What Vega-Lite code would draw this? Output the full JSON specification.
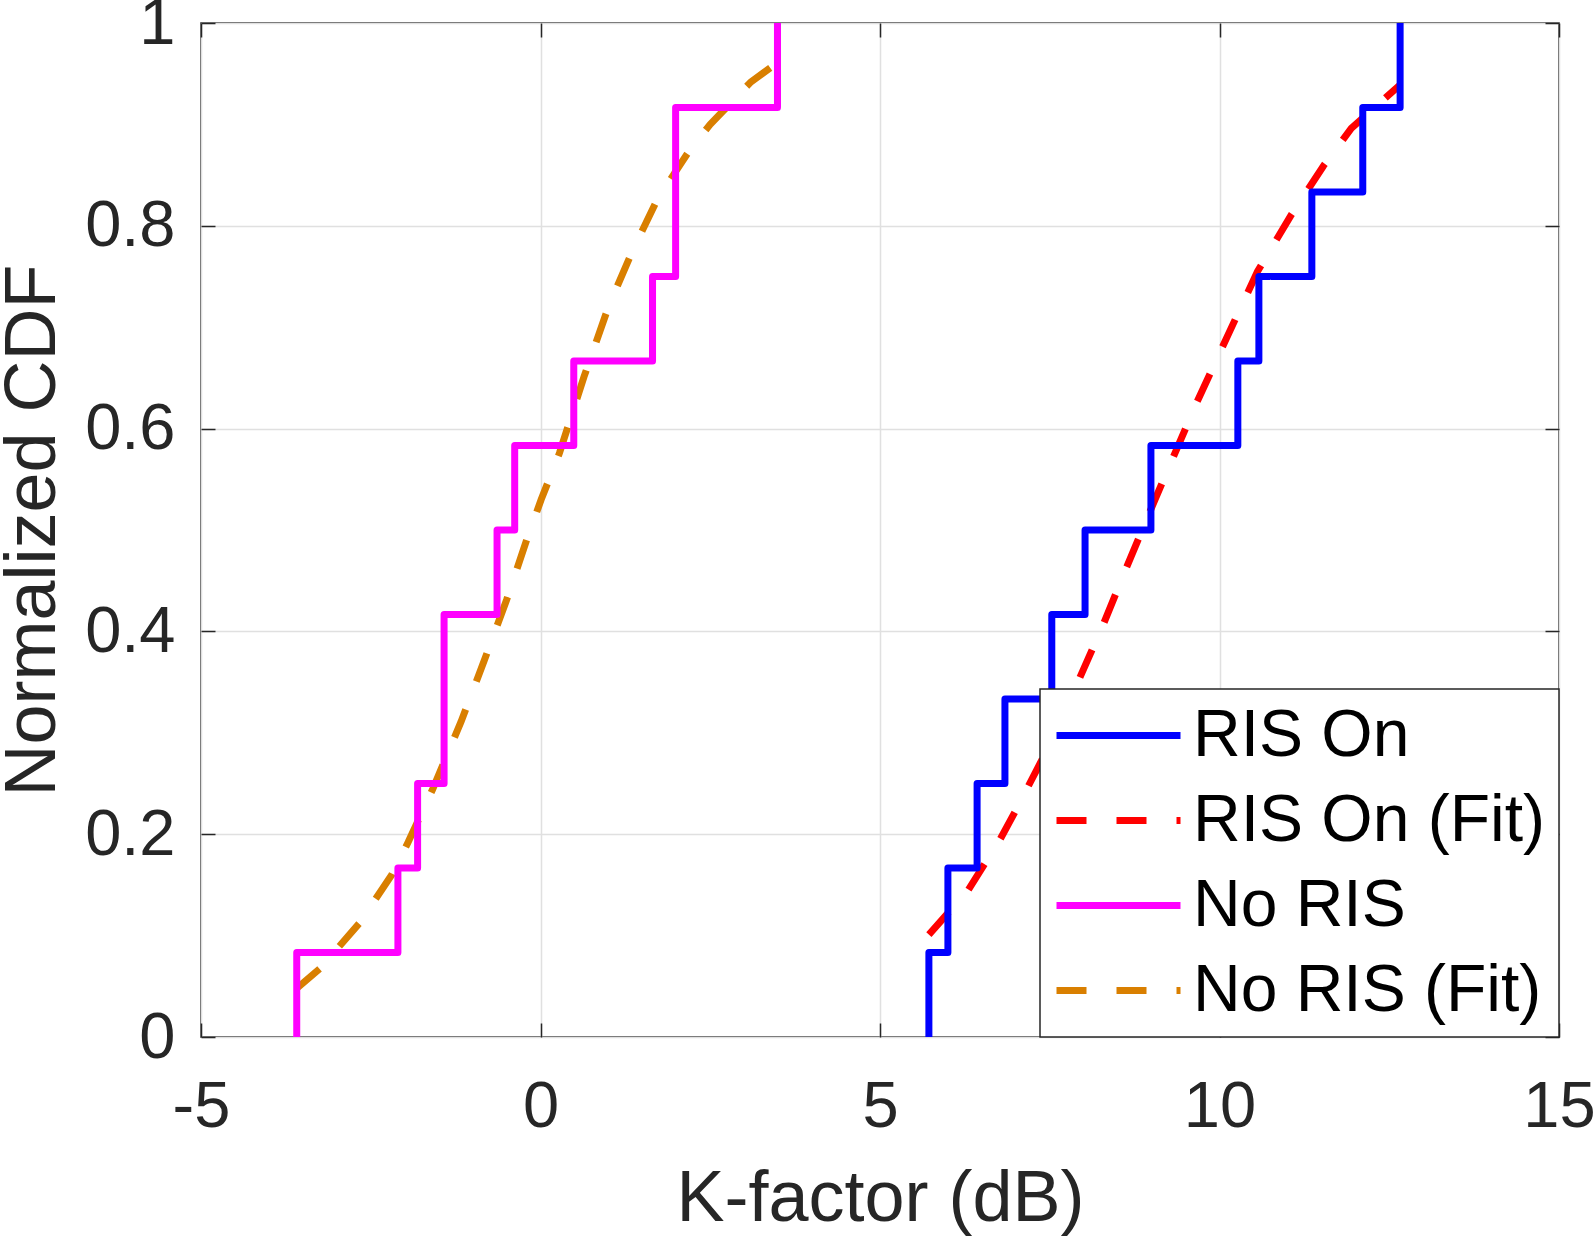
{
  "$schema": "https://vega.github.io/schema/vega-lite/v6.json",
  "width": 1358,
  "height": 1014,
  "autosize": {"type": "none"},
  "padding": {"left": 201, "top": 23, "right": 35, "bottom": 200},
  "background": "white",
  "config": {
    "font": "Liberation Sans",
    "view": {"stroke": "#262626", "strokeWidth": 1.5},
    "legend": {
      "orient": "bottom-right",
      "offset": 0,
      "symbolType": "stroke",
      "symbolSize": 15376,
      "symbolStrokeWidth": 7,
      "labelFont": "Liberation Sans",
      "labelFontSize": 66,
      "labelColor": "#000000",
      "labelOffset": 9,
      "labelLimit": 600,
      "padding": 13,
      "rowPadding": 18,
      "clipHeight": 67,
      "strokeColor": "#262626",
      "strokeWidth": 1.5,
      "fillColor": "white"
    }
  },
  "datasets": {
    "steps": [
      {"series": "RIS On", "rank": 0, "x": 5.72, "cdf": 0},
      {"series": "RIS On", "rank": 1, "x": 5.72, "cdf": 0.0833},
      {"series": "RIS On", "rank": 2, "x": 6.0, "cdf": 0.1667},
      {"series": "RIS On", "rank": 3, "x": 6.43, "cdf": 0.25},
      {"series": "RIS On", "rank": 4, "x": 6.84, "cdf": 0.3333},
      {"series": "RIS On", "rank": 5, "x": 7.53, "cdf": 0.4167},
      {"series": "RIS On", "rank": 6, "x": 8.02, "cdf": 0.5},
      {"series": "RIS On", "rank": 7, "x": 8.99, "cdf": 0.5833},
      {"series": "RIS On", "rank": 8, "x": 10.27, "cdf": 0.6667},
      {"series": "RIS On", "rank": 9, "x": 10.58, "cdf": 0.75},
      {"series": "RIS On", "rank": 10, "x": 11.36, "cdf": 0.8333},
      {"series": "RIS On", "rank": 11, "x": 12.11, "cdf": 0.9167},
      {"series": "RIS On", "rank": 12, "x": 12.66, "cdf": 1},
      {"series": "No RIS", "rank": 0, "x": -3.59, "cdf": 0},
      {"series": "No RIS", "rank": 1, "x": -3.59, "cdf": 0.0833},
      {"series": "No RIS", "rank": 2, "x": -2.1, "cdf": 0.1667},
      {"series": "No RIS", "rank": 3, "x": -1.81, "cdf": 0.25},
      {"series": "No RIS", "rank": 4, "x": -1.42, "cdf": 0.3333},
      {"series": "No RIS", "rank": 5, "x": -1.42, "cdf": 0.4167},
      {"series": "No RIS", "rank": 6, "x": -0.64, "cdf": 0.5},
      {"series": "No RIS", "rank": 7, "x": -0.38, "cdf": 0.5833},
      {"series": "No RIS", "rank": 8, "x": 0.49, "cdf": 0.6667},
      {"series": "No RIS", "rank": 9, "x": 1.65, "cdf": 0.75},
      {"series": "No RIS", "rank": 10, "x": 1.99, "cdf": 0.8333},
      {"series": "No RIS", "rank": 11, "x": 1.99, "cdf": 0.9167},
      {"series": "No RIS", "rank": 12, "x": 3.49, "cdf": 1}
    ],
    "fits": [
      {"series": "RIS On (Fit)", "x": 5.72, "cdf": 0.101},
      {"series": "RIS On (Fit)", "x": 6.29, "cdf": 0.144},
      {"series": "RIS On (Fit)", "x": 6.77, "cdf": 0.195},
      {"series": "RIS On (Fit)", "x": 6.98, "cdf": 0.221},
      {"series": "RIS On (Fit)", "x": 7.39, "cdf": 0.274},
      {"series": "RIS On (Fit)", "x": 7.94, "cdf": 0.354},
      {"series": "RIS On (Fit)", "x": 8.29, "cdf": 0.407},
      {"series": "RIS On (Fit)", "x": 8.63, "cdf": 0.463},
      {"series": "RIS On (Fit)", "x": 9.05, "cdf": 0.53},
      {"series": "RIS On (Fit)", "x": 9.66, "cdf": 0.625},
      {"series": "RIS On (Fit)", "x": 10.22, "cdf": 0.706},
      {"series": "RIS On (Fit)", "x": 10.56, "cdf": 0.755},
      {"series": "RIS On (Fit)", "x": 11.05, "cdf": 0.81},
      {"series": "RIS On (Fit)", "x": 11.53, "cdf": 0.859},
      {"series": "RIS On (Fit)", "x": 11.94, "cdf": 0.896},
      {"series": "RIS On (Fit)", "x": 12.66, "cdf": 0.939},
      {"series": "No RIS (Fit)", "x": -3.59, "cdf": 0.048},
      {"series": "No RIS (Fit)", "x": -3.24, "cdf": 0.068},
      {"series": "No RIS (Fit)", "x": -2.67, "cdf": 0.112},
      {"series": "No RIS (Fit)", "x": -2.19, "cdf": 0.16},
      {"series": "No RIS (Fit)", "x": -1.95, "cdf": 0.192},
      {"series": "No RIS (Fit)", "x": -1.59, "cdf": 0.244},
      {"series": "No RIS (Fit)", "x": -1.17, "cdf": 0.311},
      {"series": "No RIS (Fit)", "x": -0.83, "cdf": 0.371},
      {"series": "No RIS (Fit)", "x": -0.5, "cdf": 0.431},
      {"series": "No RIS (Fit)", "x": -0.2, "cdf": 0.491},
      {"series": "No RIS (Fit)", "x": 0.01, "cdf": 0.53},
      {"series": "No RIS (Fit)", "x": 0.28, "cdf": 0.576},
      {"series": "No RIS (Fit)", "x": 0.64, "cdf": 0.651},
      {"series": "No RIS (Fit)", "x": 1.0, "cdf": 0.72},
      {"series": "No RIS (Fit)", "x": 1.36, "cdf": 0.776},
      {"series": "No RIS (Fit)", "x": 1.72, "cdf": 0.826},
      {"series": "No RIS (Fit)", "x": 2.2, "cdf": 0.875},
      {"series": "No RIS (Fit)", "x": 2.5, "cdf": 0.9},
      {"series": "No RIS (Fit)", "x": 3.1, "cdf": 0.942},
      {"series": "No RIS (Fit)", "x": 3.49, "cdf": 0.961}
    ]
  },
  "layer": [
    {
      "data": {"name": "fits"},
      "mark": {"type": "line", "strokeWidth": 7, "strokeCap": "butt"},
      "encoding": {
        "x": {
          "field": "x",
          "type": "quantitative",
          "scale": {"domain": [-5, 15], "nice": false, "zero": false},
          "axis": {
            "orient": "bottom",
            "values": [-5, 0, 5, 10, 15],
            "labelExpr": "'' + datum.value",
            "title": "K-factor (dB)",
            "titleFont": "Liberation Sans",
            "titleFontSize": 72,
            "titleFontWeight": "normal",
            "titleColor": "#262626",
            "titlePadding": 24,
            "labelFont": "Liberation Sans",
            "labelFontSize": 65,
            "labelColor": "#262626",
            "labelPadding": 52,
            "labelFlush": false,
            "labelOverlap": false,
            "tickSize": -14,
            "tickColor": "#262626",
            "tickWidth": 1.5,
            "domain": false,
            "grid": true,
            "gridColor": "#e0e0e0",
            "gridWidth": 1.5
          }
        },
        "y": {
          "field": "cdf",
          "type": "quantitative",
          "scale": {"domain": [0, 1], "nice": false},
          "axis": {
            "orient": "left",
            "values": [0, 0.2, 0.4, 0.6, 0.8, 1],
            "format": "~g",
            "title": "Normalized CDF",
            "titleFont": "Liberation Sans",
            "titleFontSize": 72,
            "titleFontWeight": "normal",
            "titleColor": "#262626",
            "titlePadding": 15,
            "labelFont": "Liberation Sans",
            "labelFontSize": 65,
            "labelColor": "#262626",
            "labelPadding": 40,
            "labelFlush": false,
            "labelOverlap": false,
            "tickSize": -14,
            "tickColor": "#262626",
            "tickWidth": 1.5,
            "domain": false,
            "grid": true,
            "gridColor": "#e0e0e0",
            "gridWidth": 1.5
          }
        },
        "color": {
          "field": "series",
          "type": "nominal",
          "scale": {
            "domain": ["RIS On", "RIS On (Fit)", "No RIS", "No RIS (Fit)"],
            "range": ["#0000ff", "#ff0000", "#ff00ff", "#d97f00"]
          },
          "legend": {"title": null}
        },
        "strokeDash": {
          "field": "series",
          "type": "nominal",
          "scale": {
            "domain": ["RIS On", "RIS On (Fit)", "No RIS", "No RIS (Fit)"],
            "range": [[1, 0], [30, 30], [1, 0], [30, 30]]
          },
          "legend": {"title": null}
        },
        "order": {"field": "x", "type": "quantitative"}
      }
    },
    {
      "data": {"name": "steps"},
      "mark": {"type": "line", "interpolate": "step-after", "strokeWidth": 7, "strokeJoin": "round"},
      "encoding": {
        "x": {
          "field": "x",
          "type": "quantitative",
          "axis": {
            "orient": "top",
            "values": [-5, 0, 5, 10, 15],
            "labels": false,
            "title": null,
            "tickSize": -14,
            "tickColor": "#262626",
            "tickWidth": 1.5,
            "domain": false,
            "grid": false
          }
        },
        "y": {
          "field": "cdf",
          "type": "quantitative",
          "axis": {
            "orient": "right",
            "values": [0, 0.2, 0.4, 0.6, 0.8, 1],
            "labels": false,
            "title": null,
            "tickSize": -14,
            "tickColor": "#262626",
            "tickWidth": 1.5,
            "domain": false,
            "grid": false
          }
        },
        "color": {"field": "series", "type": "nominal", "legend": {"title": null}},
        "strokeDash": {"field": "series", "type": "nominal", "legend": {"title": null}},
        "order": {"field": "rank", "type": "quantitative"}
      }
    }
  ],
  "resolve": {"axis": {"x": "independent", "y": "independent"}}
}
